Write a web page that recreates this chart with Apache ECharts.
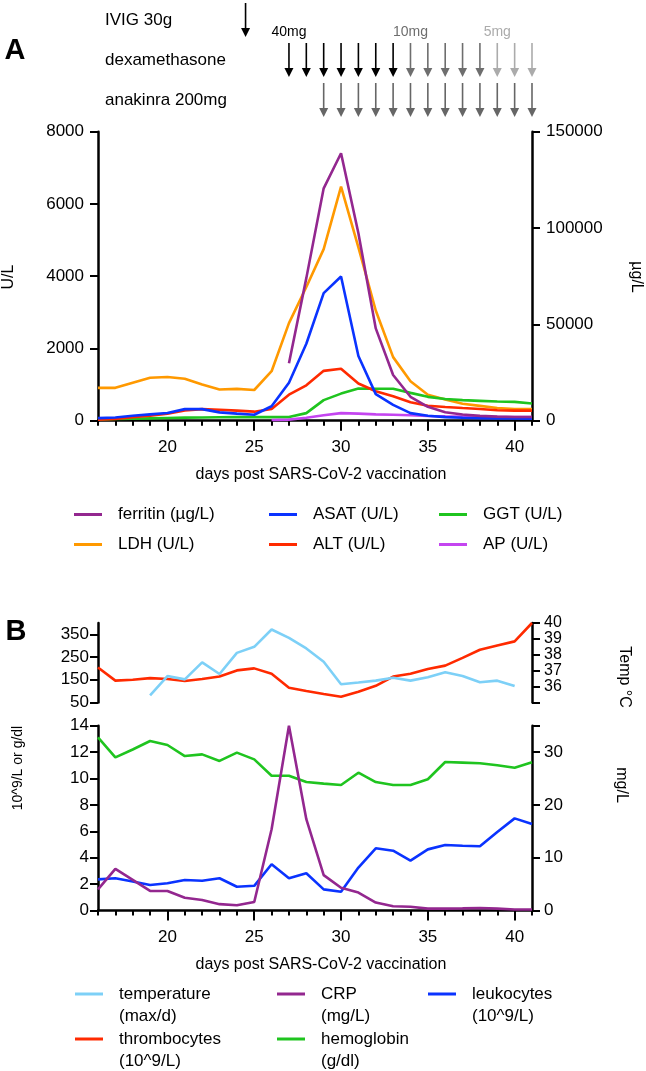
<!DOCTYPE html>
<html>
<head>
<meta charset="utf-8">
<script src="https://cdn.jsdelivr.net/npm/echarts@6.0.0/dist/echarts.min.js"></script>
<style>html,body{margin:0;padding:0;background:#fff;}#chart{width:646px;height:1071px;}</style>
</head>
<body>
<div id="chart"></div>
<script>
// ---------- data ----------
const days = [16,17,18,19,20,21,22,23,24,25,26,27,28,29,30,31,32,33,34,35,36,37,38,39,40,41];
const xLabelTicks = [20,25,30,35,40];

// Panel A
const ferritin = [null,null,null,null,null,null,null,null,null,null,null,29800,74000,120600,138800,97300,47900,23700,12400,7200,4400,3200,2500,2100,1900,1900];
const ldh = [910,910,1050,1190,1210,1160,1000,865,880,850,1370,2700,3700,4750,6480,4800,3050,1760,1090,720,585,470,410,350,320,320];
const asat = [70,90,135,175,215,320,320,230,195,165,400,1050,2130,3530,3990,1790,735,440,210,135,100,80,70,65,60,55];
const alt = [30,45,95,140,195,285,320,305,280,250,325,720,980,1380,1440,1030,815,675,510,415,380,350,325,290,280,280];
const ggt = [28,45,55,65,75,85,90,95,100,100,100,100,210,570,750,890,885,885,770,660,600,570,550,530,520,475];
const ap = [null,null,null,null,null,null,null,null,null,null,20,30,80,150,210,195,175,165,150,130,120,112,105,100,100,100];

// Panel B
const temperature = [null,null,null,35.45,36.66,36.45,37.52,36.79,38.12,38.50,39.59,39.06,38.40,37.56,36.14,36.25,36.37,36.55,36.37,36.58,36.9,36.66,36.27,36.37,36.03,null];
const thrombocytes = [204,146,150,157,153,144,153,164,191,200,176,115,100,87,75,97,123,164,176,197,212,246,282,301,319,400];
const crp = [4.0,7.9,5.8,3.7,3.7,2.4,2.0,1.2,1.0,1.6,15.4,35,17.3,6.7,4.3,3.4,1.5,0.8,0.7,0.35,0.35,0.4,0.47,0.35,0.2,0.2];
const hemoglobin = [13.12,11.6,12.2,12.84,12.54,11.7,11.83,11.33,11.96,11.45,10.21,10.21,9.73,9.61,9.51,10.44,9.73,9.51,9.51,9.94,11.25,11.2,11.15,11.0,10.82,11.23];
const leukocytes = [2.36,2.44,2.2,1.93,2.06,2.31,2.25,2.44,1.8,1.87,3.5,2.44,2.82,1.6,1.42,3.25,4.71,4.53,3.78,4.63,4.96,4.91,4.87,5.95,6.98,6.55];

// tick labels
const thromboTicks = [50,150,250,350];
const tempTicks = [35,36,37,38,39,40];
const tempLabels = [36,37,38,39,40];
const crpTicks = [0,10,20,30,35];
const crpLabels = [0,10,20,30];

// Treatment timeline
const treatmentRows = ['IVIG 30g','dexamethasone','anakinra 200mg'];
const ivigDays = [24.5];
const dexaDays = [27,28,29,30,31,32,33,34,35,36,37,38,39,40,41];
const dexaDose = [40,40,40,40,40,40,40,10,10,10,10,10,5,5,5];
const anakinraDays = [29,30,31,32,33,34,35,36,37,38,39,40,41];
const doseLabelDays = [27,34,39];
const doseLabelText = ['40mg','10mg','5mg'];

// ---------- chart ----------
const FONT = 'Liberation Sans, Arial, sans-serif';
const doseColor = {40:'#000000', 10:'#6e6e6e', 5:'#ababab'};
const pairs = arr => days.map((d,i)=>[d, arr[i]]);
const plain = v => String(v);

function tickAxis(grid){
  return {gridIndex:grid, type:'value', min:16, max:41, position:'bottom',
    axisLine:{show:true, lineStyle:{color:'#000', width:2.5}},
    axisTick:{show:true, customValues:days, length:5, lineStyle:{color:'#000', width:2}},
    axisLabel:{show:false}, splitLine:{show:false}};
}
function labelAxis(grid){
  return {gridIndex:grid, type:'value', min:16, max:41, position:'bottom',
    axisLine:{show:false},
    axisTick:{show:true, customValues:xLabelTicks, length:10, lineStyle:{color:'#000', width:2}},
    axisLabel:{show:true, customValues:xLabelTicks, fontSize:17, margin:18, color:'#000', fontFamily:FONT, formatter:plain},
    splitLine:{show:false},
    name:'days post SARS-CoV-2 vaccination', nameLocation:'middle', nameGap:46,
    nameTextStyle:{fontSize:16, color:'#000', fontFamily:FONT, padding:[0,0,0,12]}};
}
function yLabel(margin, extra){
  return Object.assign({fontSize:17, color:'#000', fontFamily:FONT, margin, formatter:plain, interval:0,
    showMinLabel:true, showMaxLabel:true, hideOverlap:false}, extra||{});
}
function yAx(grid, pos, opts){
  return Object.assign({gridIndex:grid, type:'value', position:pos,
    axisLine:{show:true, lineStyle:{color:'#000', width:2.5}},
    axisTick:{show:true, length:8, lineStyle:{color:'#000', width:2}},
    axisLabel:yLabel(13),
    splitLine:{show:false}}, opts);
}
function lineSeries(name, data, color, xi, yi){
  return {name, type:'line', xAxisIndex:xi, yAxisIndex:yi, data:pairs(data),
    showSymbol:false, symbol:'none', connectNulls:false,
    lineStyle:{color, width:2.6}, itemStyle:{color}, emphasis:{disabled:true}};
}

function arrow(api, color){
  const p = api.coord([api.value(0), api.value(1)]);
  const half = 17;
  return {type:'group', children:[
    {type:'line', shape:{x1:p[0], y1:p[1]-half, x2:p[0], y2:p[1]+half-6}, style:{stroke:color, lineWidth:1.6}},
    {type:'polygon', shape:{points:[[p[0]-4.5,p[1]+half-9],[p[0]+4.5,p[1]+half-9],[p[0],p[1]+half]]}, style:{fill:color}}
  ]};
}

const legendBase = {orient:'vertical', itemWidth:28, itemHeight:3, icon:'rect', padding:0, selectedMode:false,
  textStyle:{fontSize:17, color:'#000', fontFamily:FONT, padding:[0,0,0,11]}};
function legA(left, top, data){ return Object.assign({}, legendBase, {left, top, itemGap:13, data}); }
function legB(left, top, name){
  return Object.assign({}, legendBase, {left, top, data:[name],
    formatter: n => ' \n' + n,
    textStyle:{fontSize:17, color:'#000', fontFamily:FONT, lineHeight:22, padding:[0,0,0,11]}});
}

function gtext(text, x, y, rot, size, weight){
  return {type:'text', x, y, rotation:rot, silent:true,
    style:{text, fill:'#000', font:(weight||'normal')+' '+size+'px '+FONT,
      align:'center', verticalAlign:'middle', textAlign:'center', textVerticalAlign:'middle'}};
}

const option = {
  animation:false,
  backgroundColor:'#fff',
  textStyle:{fontFamily:FONT},
  grid:[
    {left:98, right:114, top:131.7, height:289},
    {left:98, right:114, top:623, height:79.4},
    {left:98, right:114, top:725.7, height:184.8},
    {left:98, right:114, top:-3, height:123}
  ],
  xAxis:[
    tickAxis(0), labelAxis(0),
    {gridIndex:1, type:'value', min:16, max:41, show:false},
    tickAxis(2), labelAxis(2),
    {gridIndex:3, type:'value', min:16, max:41, show:false}
  ],
  yAxis:[
    yAx(0,'left',{min:0, max:8000, interval:2000, axisLabel:yLabel(14)}),
    yAx(0,'right',{min:0, max:150000, interval:50000, axisLabel:yLabel(14)}),
    yAx(1,'left',{min:50, max:400, axisTick:{show:true, customValues:thromboTicks, length:8, lineStyle:{color:'#000', width:2}},
      axisLabel:yLabel(9, {customValues:thromboTicks})}),
    yAx(1,'right',{min:35, max:40, axisTick:{show:true, customValues:tempTicks, length:8, lineStyle:{color:'#000', width:2}},
      axisLabel:yLabel(12, {customValues:tempLabels, fontSize:16, lineHeight:15})}),
    yAx(2,'left',{min:0, max:14, interval:2, axisLabel:yLabel(9)}),
    yAx(2,'right',{min:0, max:35, axisTick:{show:true, customValues:crpTicks, length:8, lineStyle:{color:'#000', width:2}},
      axisLabel:yLabel(12, {customValues:crpLabels})}),
    {gridIndex:3, type:'category', data:treatmentRows, inverse:true,
      axisLine:{show:false}, axisTick:{show:false}, splitLine:{show:false},
      axisLabel:{interval:0, align:'left', margin:-7, fontSize:17, color:'#000', fontFamily:FONT}}
  ],
  legend:[
    legA(74, 506, ['ferritin (µg/L)','LDH (U/L)']),
    legA(269, 506, ['ASAT (U/L)','ALT (U/L)']),
    legA(439, 506, ['GGT (U/L)','AP (U/L)']),
    legB(75, 961, 'temperature\n(max/d)'),
    legB(75, 1006, 'thrombocytes\n(10^9/L)'),
    legB(277, 961, 'CRP\n(mg/L)'),
    legB(277, 1006, 'hemoglobin\n(g/dl)'),
    legB(428, 961, 'leukocytes\n(10^9/L)')
  ],
  graphic:[
    gtext('A', 15, 51, 0, 29, 'bold'),
    gtext('B', 16, 632, 0, 29, 'bold'),
    gtext('U/L', 9, 277, Math.PI/2, 16),
    gtext('µg/L', 636, 277, -Math.PI/2, 16),
    gtext('Temp °C', 624, 677, -Math.PI/2, 16),
    gtext('mg/L', 621, 785, -Math.PI/2, 16),
    gtext('10^9/L or g/dl', 18, 768, Math.PI/2, 14)
  ],
  series:[
    lineSeries('LDH (U/L)', ldh, '#ff9900', 0, 0),
    lineSeries('GGT (U/L)', ggt, '#1fc41f', 0, 0),
    lineSeries('AP (U/L)', ap, '#c445f0', 0, 0),
    lineSeries('ALT (U/L)', alt, '#ff2a00', 0, 0),
    lineSeries('ASAT (U/L)', asat, '#0a33ff', 0, 0),
    lineSeries('ferritin (µg/L)', ferritin, '#93278f', 0, 1),

    lineSeries('thrombocytes\n(10^9/L)', thrombocytes, '#ff2a00', 2, 2),
    lineSeries('temperature\n(max/d)', temperature, '#7dd0f7', 2, 3),

    lineSeries('hemoglobin\n(g/dl)', hemoglobin, '#1fc41f', 3, 4),
    lineSeries('leukocytes\n(10^9/L)', leukocytes, '#0a33ff', 3, 4),
    lineSeries('CRP\n(mg/L)', crp, '#93278f', 3, 5),

    {name:'IVIG', type:'custom', xAxisIndex:5, yAxisIndex:6, silent:true,
      data:ivigDays.map(d=>[d,0]),
      renderItem:(params, api)=>arrow(api, '#000')},
    {name:'dexamethasone', type:'custom', xAxisIndex:5, yAxisIndex:6, silent:true,
      data:dexaDays.map((d,i)=>[d,1,dexaDose[i]]),
      renderItem:(params, api)=>arrow(api, doseColor[api.value(2)])},
    {name:'anakinra', type:'custom', xAxisIndex:5, yAxisIndex:6, silent:true,
      data:anakinraDays.map(d=>[d,2]),
      renderItem:(params, api)=>arrow(api, '#666666')},
    {name:'dose', type:'custom', xAxisIndex:5, yAxisIndex:6, silent:true,
      data:doseLabelDays.map((d,i)=>[d,1,i]),
      renderItem:(params, api)=>{
        const p = api.coord([api.value(0), api.value(1)]);
        const col = doseColor[dexaDose[dexaDays.indexOf(api.value(0))]];
        return {type:'text', x:p[0], y:p[1]-28,
          style:{text:doseLabelText[params.dataIndex], fill:col, font:'14px '+FONT,
            align:'center', verticalAlign:'middle', textAlign:'center', textVerticalAlign:'middle'}};
      }}
  ]
};

const chart = echarts.init(document.getElementById('chart'), null, {renderer:'canvas'});
chart.setOption(option);
</script>
</body>
</html>
